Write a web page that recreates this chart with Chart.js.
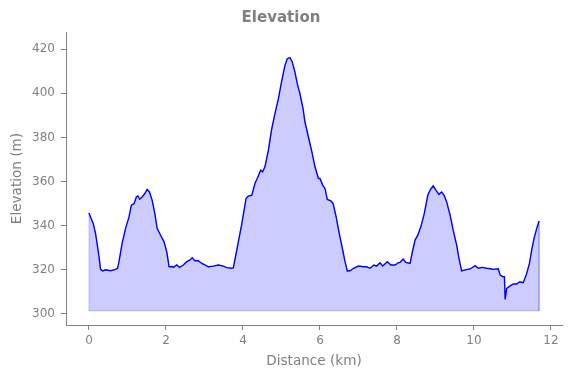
<!DOCTYPE html>
<html>
<head>
<meta charset="utf-8">
<title>Elevation</title>
<script src="https://cdn.jsdelivr.net/npm/chart.js@4.4.1/dist/chart.umd.min.js"></script>
<style>
  html, body { margin: 0; padding: 0; background: #fff; }
  canvas { display: block; }
</style>
</head>
<body>
<canvas id="elevChart" width="571" height="378"></canvas>
<script>
// distance along the route (km)
var distKm = [
  0.00, 0.04, 0.11, 0.17, 0.21, 0.26, 0.30, 0.36, 0.43, 0.56, 0.69, 0.74, 0.78, 0.86, 0.95,
  1.04, 1.10, 1.17, 1.23, 1.27, 1.32, 1.38, 1.45, 1.51, 1.57, 1.64, 1.71, 1.77, 1.86, 1.95,
  2.02, 2.08, 2.16, 2.19, 2.28, 2.35, 2.45, 2.54, 2.62, 2.68, 2.75, 2.84, 2.93, 3.01, 3.10,
  3.23, 3.36, 3.49, 3.58, 3.71, 3.75, 3.84, 3.97, 4.08, 4.14, 4.23, 4.31, 4.37, 4.46, 4.51,
  4.57, 4.66, 4.74, 4.83, 4.92, 5.00, 5.09, 5.15, 5.22, 5.28, 5.35, 5.41, 5.48, 5.56, 5.61,
  5.70, 5.79, 5.87, 5.96, 6.00, 6.07, 6.13, 6.19, 6.28, 6.34, 6.42, 6.50, 6.59, 6.65, 6.71,
  6.78, 6.87, 7.00, 7.13, 7.21, 7.30, 7.40, 7.47, 7.56, 7.63, 7.75, 7.84, 7.95, 8.03, 8.08,
  8.16, 8.23, 8.34, 8.40, 8.47, 8.54, 8.62, 8.71, 8.80, 8.86, 8.94, 9.01, 9.09, 9.16, 9.23,
  9.29, 9.38, 9.46, 9.55, 9.61, 9.68, 9.77, 9.90, 10.03, 10.11, 10.22, 10.33, 10.46, 10.50, 10.63,
  10.68, 10.75, 10.79, 10.81, 10.85, 10.94, 11.02, 11.11, 11.19, 11.28, 11.37, 11.44, 11.50, 11.56, 11.63,
  11.69
];

// elevation (m)
var elevM = [
  345.8, 344.0, 341.0, 336.5, 332.0, 326.0, 320.2, 319.5, 320.0, 319.6, 320.2, 320.7, 323.7, 332.0, 338.8,
  344.0, 349.3, 350.0, 353.0, 353.5, 352.0, 353.0, 354.6, 356.4, 355.3, 351.6, 345.6, 338.8, 335.7, 332.7,
  328.2, 321.4, 321.5, 321.1, 322.2, 321.1, 322.2, 323.7, 324.4, 325.5, 324.1, 324.1, 322.9, 322.2, 321.4,
  321.7, 322.2, 321.7, 321.0, 320.7, 321.0, 329.0, 341.0, 352.4, 353.4, 353.8, 359.1, 361.4, 365.2, 364.4,
  366.7, 374.2, 383.3, 390.8, 397.6, 405.1, 412.7, 415.7, 416.2, 414.2, 409.6, 404.4, 399.8, 393.1, 387.0,
  380.2, 373.5, 366.7, 361.4, 361.4, 358.4, 356.9, 351.9, 351.3, 350.1, 344.0, 336.5, 329.0, 323.7, 319.5,
  319.6, 320.7, 321.7, 321.4, 321.4, 320.7, 322.2, 321.7, 323.2, 321.7, 323.7, 322.2, 322.2, 323.2, 323.4,
  324.9, 323.4, 322.9, 328.2, 333.5, 335.7, 339.5, 345.6, 353.8, 356.1, 358.1, 356.1, 354.2, 355.3, 353.5,
  350.8, 344.8, 338.0, 331.2, 325.2, 319.5, 320.0, 320.4, 321.9, 320.7, 321.1, 320.7, 320.4, 320.2, 320.5,
  317.6, 316.9, 316.9, 306.6, 311.6, 312.7, 313.6, 313.6, 314.6, 314.2, 318.4, 322.9, 329.0, 334.3, 338.8,
  342.1
];

var fillBase = 301.4;
var xTicks = [0, 2, 4, 6, 8, 10, 12];
var yTicks = [300, 320, 340, 360, 380, 400, 420];

var gray = '#808080';

var profile = distKm.map(function (d, i) { return { x: d, y: elevM[i] }; });
var lastKm = distKm[distKm.length - 1];
var area = [{ x: distKm[0], y: fillBase }].concat(profile, [{ x: lastKm, y: fillBase }]);
var baseLine = [{ x: distKm[0], y: fillBase }, { x: lastKm, y: fillBase }];

var ctx = document.getElementById('elevChart').getContext('2d');
var elevChart = new Chart(ctx, {
  type: 'line',
  data: {
    datasets: [{
      label: 'area',
      data: area,
      borderColor: 'rgba(0,0,255,0.2)',
      borderWidth: 1,
      backgroundColor: 'rgba(0,0,255,0.2)',
      fill: { value: fillBase },
      pointRadius: 0,
      tension: 0,
      order: 3
    }, {
      label: 'base',
      data: baseLine,
      borderColor: 'rgba(0,0,255,0.2)',
      borderWidth: 1,
      fill: false,
      pointRadius: 0,
      order: 2
    }, {
      label: 'Elevation',
      data: profile,
      borderColor: '#0000ff',
      borderWidth: 1.4,
      fill: false,
      pointRadius: 0,
      tension: 0,
      order: 1
    }]
  },
  options: {
    responsive: false,
    animation: false,
    devicePixelRatio: 1,
    layout: { padding: { top: 0, right: 9, bottom: 0, left: 0 } },
    plugins: {
      legend: { display: false },
      tooltip: { enabled: false },
      title: {
        display: true,
        text: 'Elevation',
        color: gray,
        font: { family: 'DejaVu Sans', size: 15, weight: 'bold' },
        padding: { top: 9, bottom: 5 }
      }
    },
    scales: {
      x: {
        type: 'linear',
        min: -0.597,
        max: 12.286,
        afterBuildTicks: function (scale) {
          scale.ticks = xTicks.map(function (v) { return { value: v }; });
        },
        afterFit: function (scale) { scale.height = 53; },
        grid: { drawOnChartArea: false, drawTicks: true, tickLength: 5, color: gray },
        border: { display: true, color: gray, width: 1 },
        ticks: {
          color: gray,
          padding: 4,
          maxRotation: 0,
          font: { family: 'DejaVu Sans', size: 12 },
          callback: function (v) { return v; }
        },
        title: {
          display: true,
          text: 'Distance (km)',
          color: gray,
          font: { family: 'DejaVu Sans', size: 13.6 },
          padding: { top: 0, bottom: 8.8 }
        }
      },
      y: {
        type: 'linear',
        min: 295.0,
        max: 427.8,
        afterBuildTicks: function (scale) {
          scale.ticks = yTicks.map(function (v) { return { value: v }; });
        },
        afterFit: function (scale) { scale.width = 66; },
        grid: { drawOnChartArea: false, drawTicks: true, tickLength: 5, color: gray },
        border: { display: true, color: gray, width: 1 },
        ticks: {
          color: gray,
          padding: 6,
          font: { family: 'DejaVu Sans', size: 12 },
          callback: function (v) { return v; }
        },
        title: {
          display: true,
          text: 'Elevation (m)',
          color: gray,
          font: { family: 'DejaVu Sans', size: 13.6 },
          padding: { top: 9, bottom: 0 }
        }
      }
    }
  }
});
</script>
</body>
</html>
